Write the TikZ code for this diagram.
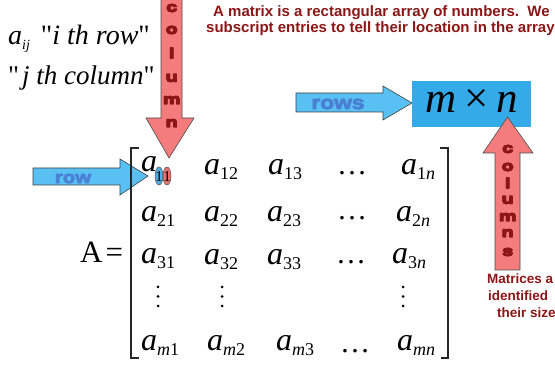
\documentclass[tikz,border=0pt]{standalone}
\usepackage{fontspec}
\setmainfont{Liberation Serif}
\newfontfamily\plainserif{Liberation Serif}
\newfontfamily\sansf{Liberation Sans}
\newfontface\heavy{Liberation Sans Bold}[FakeBold=4, FakeStretch=1.2]
\newfontface\heavyw{Liberation Sans Bold}[FakeBold=4, FakeStretch=1.4]
\definecolor{txtred}{RGB}{140,22,22}
\definecolor{pinkarrow}{RGB}{244,124,124}
\definecolor{bluearrow}{RGB}{88,192,242}
\definecolor{boxblue}{RGB}{52,170,232}
\definecolor{bluetxt}{RGB}{74,128,212}
\definecolor{ovalblue}{RGB}{80,172,224}
\definecolor{ovalred}{RGB}{232,112,112}
\newcommand\qq{{\plainserif\upshape "}}
\newcommand\mentry[1]{\fontsize{32}{32}\selectfont\itshape a\raisebox{-4.5pt}{\fontsize{18}{18}\selectfont\upshape #1}}
\newcommand\alet[1]{{\heavyw\fontsize{14}{14}\selectfont
  \makebox[0pt]{#1}\makebox[0pt]{\kern0.7pt#1}\makebox[0pt]{\raisebox{0.5pt}{#1}}\makebox[0pt]{\kern0.7pt\raisebox{0.5pt}{#1}}}}
\tikzset{
  ent/.style={inner sep=0pt, anchor=base west},
  redtext/.style={inner sep=0pt, text=txtred, font=\sansf\bfseries\fontsize{15}{16}\selectfont},
  redsmall/.style={inner sep=0pt, text=txtred, font=\sansf\bfseries\fontsize{13.5}{15}\selectfont},
  pinkarr/.style={fill=pinkarrow, draw=black!70, line width=0.6pt},
  bluearr/.style={fill=bluearrow, draw=black!75, line width=0.6pt},
  letter/.style={inner sep=0pt, text=txtred},
  brack/.style={draw=black!85, line width=1.3pt},
}
\begin{document}
\begin{tikzpicture}[x=1pt,y=-1pt]
\useasboundingbox (0,0) rectangle (555,374);
\clip (0,0) rectangle (555,374);
\fill[white] (0,0) rectangle (555,374);

% top-left text
\node[ent] (t1) at (8,45) {\fontsize{28}{28}\selectfont\itshape a\raisebox{-5pt}{\fontsize{14}{14}\selectfont ij}\hspace{11pt}\qq\itshape i th row\qq};
\node[ent] (t2) at (8,85) {\fontsize{27}{27}\selectfont\qq\hspace{3pt}\itshape j th column\qq};

% top paragraph
\node[redtext, anchor=base west] (p1) at (213,17) {A matrix is a rectangular array of numbers.\ \ We};
\node[redtext, anchor=base west] (p2) at (206,33) {subscript entries to tell their location in the array};

% column arrow (down)
\draw[pinkarr] (161,-2) -- (182,-2) -- (182,118) -- (194,118) -- (169,158) -- (146,118) -- (161,118) -- cycle;
\foreach \l/\yy [count=\i] in {c/8,o/30,l/53,u/78,m/100,n/123}
  \node[letter] (cl\i) at (171.5,\yy) {\alet{\l}};

% row arrow
\draw[bluearr] (33,168) -- (120,168) -- (120,159) -- (148,176) -- (120,195) -- (120,185) -- (33,185) -- cycle;
\node[inner sep=0pt, anchor=base, text=bluetxt] (rowt) at (73,183) {\heavy\fontsize{17}{17}\selectfont row};

% rows arrow and m x n box
\draw[bluearr] (296,93) -- (383,93) -- (383,86) -- (412,103) -- (383,120) -- (383,112) -- (296,112) -- cycle;
\node[inner sep=0pt, anchor=base, text=bluetxt] (rowst) at (338,109) {\heavy\fontsize{19}{19}\selectfont rows};
\fill[boxblue] (412,81) rectangle (531,127);
\node[inner sep=0pt, anchor=base] (mn) at (471.5,113) {\fontsize{43}{43}\selectfont\itshape m\hspace{8pt}\upshape×\hspace{8pt}\itshape n};

% columns arrow (up)
\draw[pinkarr] (495,270) -- (520,270) -- (520,153) -- (533,153) -- (507.5,117) -- (483,153) -- (495,153) -- cycle;
\foreach \l/\yy [count=\i] in {c/149,o/167,l/183,u/200,m/217,n/233,s/252}
  \node[letter] (cs\i) at (507.5,\yy) {\alet{\l}};

% bottom-right text
\node[redsmall, anchor=base west] (q1) at (487,284) {Matrices a};
\node[redsmall, anchor=base west] (q2) at (488,301) {identified};
\node[redsmall, anchor=base west] (q3) at (497,318) {their size};

% A =
\node[ent] (Aeq) at (80,263) {\fontsize{31}{31}\selectfont A\hspace{3pt}=};

% brackets
\draw[brack] (139,148) -- (131,148) -- (131,358) -- (139,358);
\draw[brack] (440,148) -- (448,148) -- (448,358) -- (441,358);

% matrix entries
\node[ent] (a11) at (141,172) {\fontsize{32}{32}\selectfont\itshape a};
\draw[fill=ovalblue, draw=black!70, line width=0.5pt] (159,176) ellipse [x radius=4pt, y radius=9pt];
\draw[fill=ovalred, draw=black!70, line width=0.5pt] (167,176) ellipse [x radius=4pt, y radius=9pt];
\node[inner sep=0pt] (s1) at (159,177) {\fontsize{15}{15}\selectfont 1};
\node[inner sep=0pt] (s2) at (167,177) {\fontsize{15}{15}\selectfont 1};

\node[ent] (a12) at (204,175) {\mentry{12}};
\node[ent] (a13) at (268,175) {\mentry{13}};
\node[ent] (d1)  at (337,175) {\fontsize{30}{30}\selectfont …};
\node[ent] (a1n) at (401,175) {\mentry{1\textit{n}}};

\node[ent] (a21) at (141,222) {\mentry{21}};
\node[ent] (a22) at (204,222) {\mentry{22}};
\node[ent] (a23) at (267,222) {\mentry{23}};
\node[ent] (d2)  at (337,220) {\fontsize{30}{30}\selectfont …};
\node[ent] (a2n) at (396,222) {\mentry{2\textit{n}}};

\node[ent] (a31) at (141,264) {\mentry{31}};
\node[ent] (a32) at (204,265) {\mentry{32}};
\node[ent] (a33) at (267,265) {\mentry{33}};
\node[ent] (d3)  at (336,264) {\fontsize{30}{30}\selectfont …};
\node[ent] (a3n) at (392,264) {\mentry{3\textit{n}}};

\foreach \xx in {158,222,403}
  \foreach \yy in {287,296.5,306}
    \fill (\xx,\yy) circle (1.5pt);

\node[ent] (am1) at (141,351) {\mentry{\textit{m}1}};
\node[ent] (am2) at (207,351) {\mentry{\textit{m}2}};
\node[ent] (am3) at (276,351) {\mentry{\textit{m}3}};
\node[ent] (d4)  at (340,353) {\fontsize{30}{30}\selectfont …};
\node[ent] (amn) at (397,351) {\mentry{\textit{mn}}};
\end{tikzpicture}
\end{document}
